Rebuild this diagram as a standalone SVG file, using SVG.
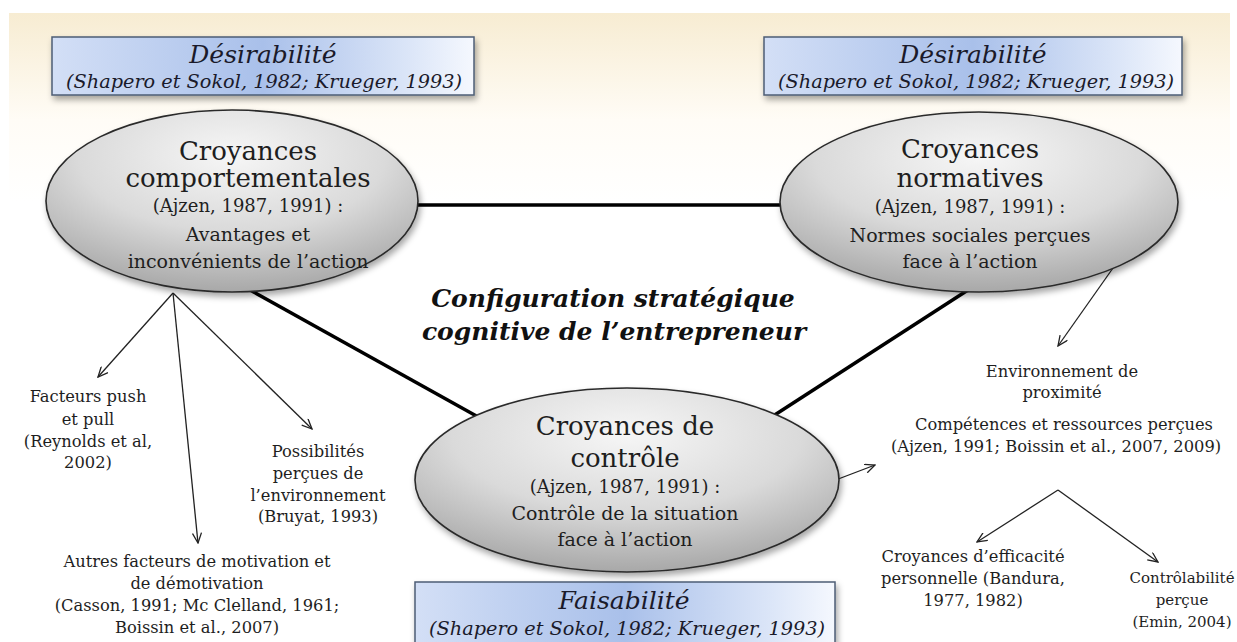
<svg xmlns="http://www.w3.org/2000/svg" width="1237" height="642" viewBox="0 0 1237 642">
<defs>
  <linearGradient id="bg" x1="0" y1="0" x2="0" y2="1">
    <stop offset="0" stop-color="#F7ECD2"/>
    <stop offset="0.17" stop-color="#FFFCF6"/>
    <stop offset="0.3" stop-color="#FFFFFF"/>
  </linearGradient>
  <linearGradient id="boxg" x1="0" y1="0" x2="1" y2="0">
    <stop offset="0" stop-color="#D3DFF6"/>
    <stop offset="0.5" stop-color="#A9C0EA"/>
    <stop offset="0.85" stop-color="#DCE6F8"/>
    <stop offset="1" stop-color="#F5F8FE"/>
  </linearGradient>
  <radialGradient id="ellg" cx="0.5" cy="0.25" r="0.75">
    <stop offset="0" stop-color="#F6F6F6"/>
    <stop offset="0.55" stop-color="#DADADA"/>
    <stop offset="1" stop-color="#A8A8A8"/>
  </radialGradient>
  <filter id="sh" x="-10%" y="-10%" width="125%" height="135%">
    <feDropShadow dx="2" dy="4" stdDeviation="3" flood-color="#000" flood-opacity="0.35"/>
  </filter>
  <marker id="arr" viewBox="0 0 12 10" refX="11" refY="5" markerWidth="12" markerHeight="10" markerUnits="userSpaceOnUse" orient="auto">
    <path d="M1,0.5 L11,5 L1,9.5" fill="none" stroke="#222" stroke-width="1.3"/>
  </marker>
  <style>
    .box{fill:url(#boxg);stroke:#4D5D75;stroke-width:1.5;filter:url(#sh)}
    .ell{fill:url(#ellg);stroke:#2A2A2A;stroke-width:1.6;filter:url(#sh)}
    .bt{font-family:"DejaVu Serif","Liberation Serif",serif;font-style:italic;fill:#1A1A2A;text-anchor:middle}
    .t1{font-size:25px}
    .t2{font-size:19.3px}
    .et{font-family:"DejaVu Serif","Liberation Serif",serif;fill:#1E1E1E;text-anchor:middle}
    .big{font-size:26px}
    .mid{font-size:19px}
    .aj{font-size:18px}
    .lb{font-family:"DejaVu Serif","Liberation Serif",serif;fill:#1E1E1E;text-anchor:middle;font-size:16.3px}
    .sm{font-size:15px}
    .ttl{font-family:"DejaVu Serif","Liberation Serif",serif;font-style:italic;font-weight:bold;fill:#111;text-anchor:middle;font-size:25px}
    .thick{stroke:#000;stroke-width:3.5;fill:none}
    .thin{stroke:#222;stroke-width:1.3;fill:none;marker-end:url(#arr)}
  </style>
</defs>
<rect x="9" y="13" width="1221" height="629" fill="url(#bg)"/>

<g id="connectors">
  <line class="thick" x1="400" y1="205" x2="800" y2="205"/>
  <line class="thick" x1="250" y1="290" x2="480" y2="418"/>
  <line class="thick" x1="968" y1="290" x2="770" y2="418"/>
  <line class="thin" x1="173" y1="293" x2="98" y2="377"/>
  <line class="thin" x1="173" y1="293" x2="198" y2="543"/>
  <line class="thin" x1="173" y1="293" x2="312" y2="429"/>
  <line class="thin" x1="1113" y1="268" x2="1058" y2="346"/>
  <line class="thin" x1="833" y1="481" x2="875" y2="465"/>
  <line class="thin" x1="1058" y1="490" x2="977" y2="542"/>
  <line class="thin" x1="1058" y1="490" x2="1158" y2="562"/>
</g>

<g id="box-desirabilite-left">
  <rect class="box" x="52" y="37" width="422" height="58"/>
  <text class="bt t1" x="263" y="63">Désirabilité</text>
  <text class="bt t2" x="264" y="88">(Shapero et Sokol, 1982; Krueger, 1993)</text>
</g>
<g id="box-desirabilite-right">
  <rect class="box" x="764" y="37" width="418" height="58"/>
  <text class="bt t1" x="973" y="63">Désirabilité</text>
  <text class="bt t2" x="976" y="88">(Shapero et Sokol, 1982; Krueger, 1993)</text>
</g>
<g id="box-faisabilite">
  <rect class="box" x="415" y="582" width="420" height="70"/>
  <text class="bt t1" x="624" y="609">Faisabilité</text>
  <text class="bt t2" x="627" y="635">(Shapero et Sokol, 1982; Krueger, 1993)</text>
</g>

<g id="node-comportementales">
  <ellipse class="ell" cx="232" cy="201" rx="186" ry="91"/>
  <text class="et big" x="248" y="160">Croyances</text>
  <text class="et big" x="248" y="187">comportementales</text>
  <text class="et aj" x="248" y="212">(Ajzen, 1987, 1991) :</text>
  <text class="et mid" x="248" y="241">Avantages et</text>
  <text class="et mid" x="248" y="268">inconvénients de l’action</text>
</g>

<g id="node-normatives">
  <ellipse class="ell" cx="979" cy="202" rx="199" ry="90"/>
  <text class="et big" x="970" y="158">Croyances</text>
  <text class="et big" x="970" y="187">normatives</text>
  <text class="et aj" x="970" y="213">(Ajzen, 1987, 1991) :</text>
  <text class="et mid" x="970" y="242">Normes sociales perçues</text>
  <text class="et mid" x="970" y="268">face à l’action</text>
</g>

<g id="node-controle">
  <ellipse class="ell" cx="627" cy="480" rx="212" ry="92"/>
  <text class="et big" x="625" y="435">Croyances de</text>
  <text class="et big" x="625" y="467">contrôle</text>
  <text class="et aj" x="625" y="493">(Ajzen, 1987, 1991) :</text>
  <text class="et mid" x="625" y="520">Contrôle de la situation</text>
  <text class="et mid" x="625" y="546">face à l’action</text>
</g>

<g id="title">
  <text class="ttl" x="613" y="307">Configuration stratégique</text>
  <text class="ttl" x="614" y="340">cognitive de l’entrepreneur</text>
</g>

<g id="label-push-pull">
  <text class="lb" x="88" y="402">Facteurs push</text>
  <text class="lb" x="88" y="425">et pull</text>
  <text class="lb" x="88" y="447">(Reynolds et al,</text>
  <text class="lb" x="88" y="468">2002)</text>
</g>
<g id="label-possibilites">
  <text class="lb" x="318" y="457">Possibilités</text>
  <text class="lb" x="318" y="479">perçues de</text>
  <text class="lb" x="318" y="501">l’environnement</text>
  <text class="lb" x="318" y="522">(Bruyat, 1993)</text>
</g>
<g id="label-autres">
  <text class="lb" x="197" y="567">Autres facteurs de motivation et</text>
  <text class="lb" x="197" y="589">de démotivation</text>
  <text class="lb" x="197" y="611">(Casson, 1991; Mc Clelland, 1961;</text>
  <text class="lb" x="197" y="633">Boissin et al., 2007)</text>
</g>
<g id="label-environnement">
  <text class="lb" x="1062" y="377">Environnement de</text>
  <text class="lb" x="1062" y="398">proximité</text>
</g>
<g id="label-competences">
  <text class="lb" x="1064" y="430">Compétences et ressources perçues</text>
  <text class="lb" x="1056" y="452">(Ajzen, 1991; Boissin et al., 2007, 2009)</text>
</g>
<g id="label-efficacite">
  <text class="lb" x="973" y="562">Croyances d’efficacité</text>
  <text class="lb" x="973" y="584">personnelle (Bandura,</text>
  <text class="lb" x="973" y="606">1977, 1982)</text>
</g>
<g id="label-controlabilite">
  <text class="lb sm" x="1182" y="583">Contrôlabilité</text>
  <text class="lb sm" x="1182" y="605">perçue</text>
  <text class="lb sm" x="1182" y="627">(Emin, 2004)</text>
</g>
</svg>
